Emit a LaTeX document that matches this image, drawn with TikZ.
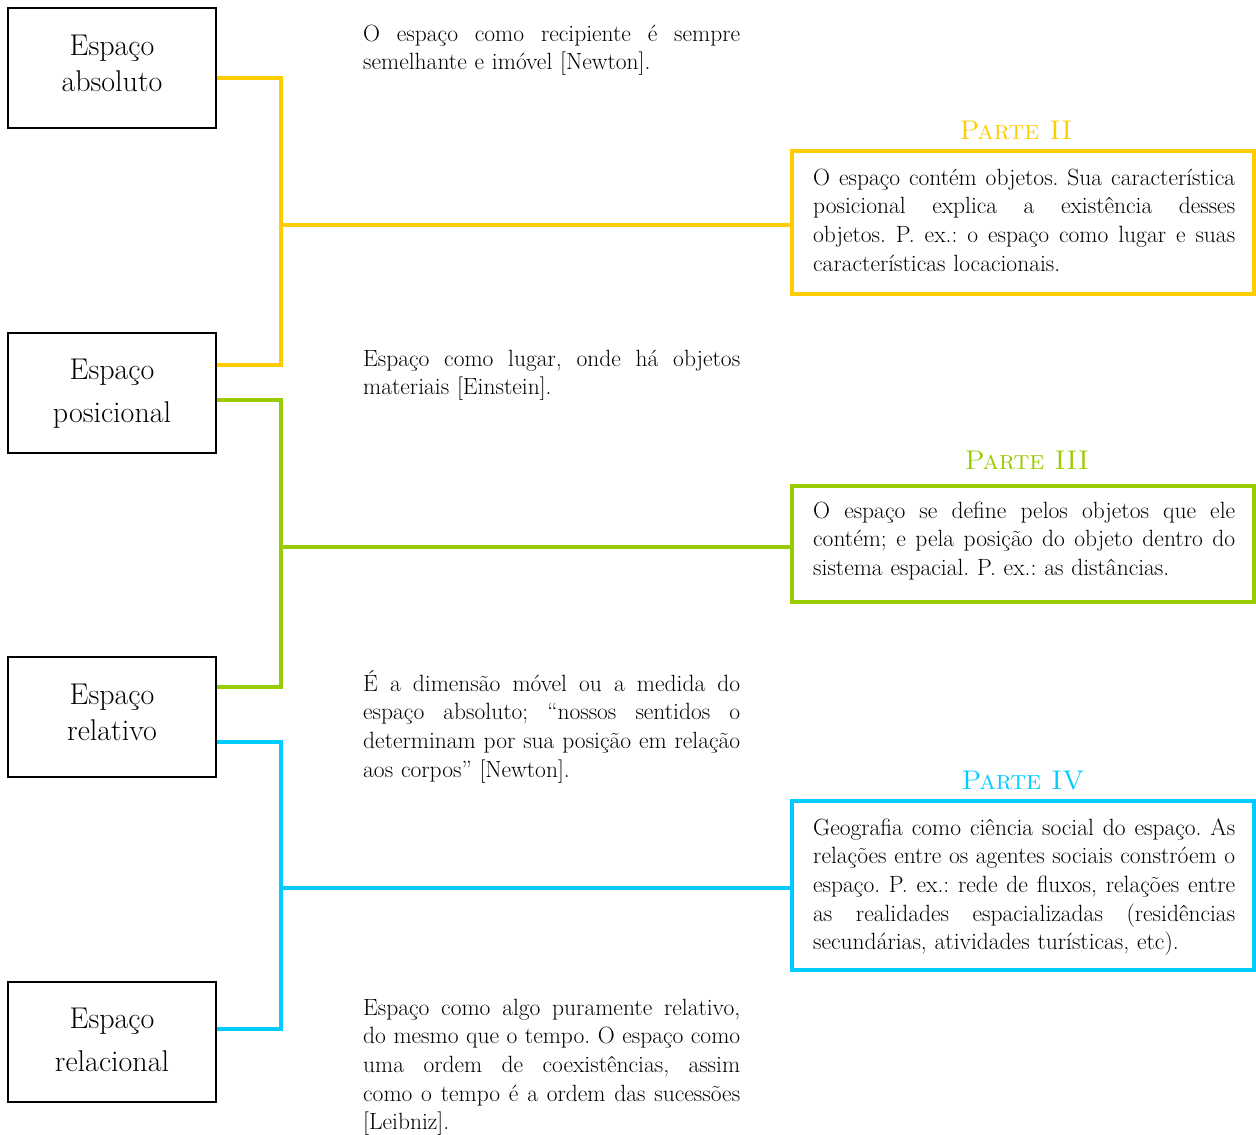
\documentclass[tikz,border=0pt]{standalone}
\usepackage{fontspec}
\frenchspacing
\definecolor{cyel}{HTML}{FFCC00}
\definecolor{cgrn}{HTML}{99CC00}
\definecolor{cblu}{HTML}{00CCFF}
\newcommand\jlA[1]{\makebox[377pt][s]{\spaceskip=0pt\xspaceskip=0pt #1}}
\newcommand\jlB[1]{\makebox[422pt][s]{\spaceskip=0pt\xspaceskip=0pt #1}}
\tikzset{
  leftbox/.style={draw=black, line width=1.5pt, minimum width=208pt, minimum height=120pt, inner sep=0pt},
  boxtxt/.style={font=\fontsize{30}{36}\selectfont, inner sep=0pt, anchor=base},
  para/.style={font=\fontsize{23.5}{28.7}\selectfont\frenchspacing, inner sep=0pt, anchor=base west, text width=377pt, align=left},
  bpara/.style={para, text width=422pt},
  rbox/.style={draw=#1, line width=4pt, minimum width=462pt, inner sep=0pt},
  ptitle/.style={text=#1, font=\fontsize{27}{33}\selectfont\scshape, inner sep=0pt, anchor=base},
  conn/.style={draw=#1, line width=3.5pt}
}
\begin{document}
\begin{tikzpicture}[x=1pt,y=-1pt]
\useasboundingbox (0,0) rectangle (1256,1135);
% left boxes
\node[leftbox] (b1) at (112,68) {};
\node[leftbox] (b2) at (112,393) {};
\node[leftbox] (b3) at (112,717) {};
\node[leftbox] (b4) at (112,1042) {};
\node[boxtxt] (b1a) at (112,55) {Espaço};
\node[boxtxt] (b1b) at (112,91) {absoluto};
\node[boxtxt] (b2a) at (112,379) {Espaço};
\node[boxtxt] (b2b) at (112,422) {posicional};
\node[boxtxt] (b3a) at (112,704) {Espaço};
\node[boxtxt] (b3b) at (112,740) {relativo};
\node[boxtxt] (b4a) at (112,1028) {Espaço};
\node[boxtxt] (b4b) at (112,1071) {relacional};
% middle texts
\node[para] (m1) at (363,41) {\jlA{O espaço como recipiente é sempre}\\semelhante e imóvel [Newton].};
\node[para] (m2) at (363,366) {\jlA{Espaço como lugar, onde há objetos}\\materiais [Einstein].};
\node[para] (m3) at (363,691) {\jlA{É a dimensão móvel ou a medida do}\\\jlA{espaço absoluto; “nossos sentidos o}\\\jlA{determinam por sua posição em relação}\\aos corpos” [Newton].};
\node[para] (m4) at (363,1015) {\jlA{Espaço como algo puramente relativo,}\\\jlA{do mesmo que o tempo. O espaço como}\\\jlA{uma ordem de coexistências, assim}\\\jlA{como o tempo é a ordem das sucessões}\\\relax{[Leibniz].}};
% right boxes
\node[rbox=cyel, minimum height=143.5pt] (p2) at (1023,222.25) {};
\node[rbox=cgrn, minimum height=116.5pt] (p3) at (1023,543.75) {};
\node[rbox=cblu, minimum height=169.5pt] (p4) at (1023,885.25) {};
\node[ptitle=cyel] (t2) at (1016,139) {Parte II};
\node[ptitle=cgrn] (t3) at (1027,469) {Parte III};
\node[ptitle=cblu] (t4) at (1023,789) {Parte IV};
\node[bpara] (r2) at (813,185) {\jlB{O espaço contém objetos. Sua característica}\\\jlB{posicional explica a existência desses}\\\jlB{objetos. P. ex.: o espaço como lugar e suas}\\características locacionais.};
\node[bpara] (r3) at (813,518) {\jlB{O espaço se define pelos objetos que ele}\\\jlB{contém; e pela posição do objeto dentro do}\\sistema espacial. P. ex.: as distâncias.};
\node[bpara] (r4) at (813,835) {\jlB{Geografia como ciência social do espaço. As}\\\jlB{relações entre os agentes sociais constróem o}\\\jlB{espaço. P. ex.: rede de fluxos, relações entre}\\\jlB{as realidades espacializadas (residências}\\secundárias, atividades turísticas, etc).};
% connectors
\coordinate (jy) at (280,225);
\coordinate (jg) at (280,547);
\coordinate (jb) at (280,888);
\draw[conn=cyel] ([yshift=-10pt]b1.east) -- ++(64,0) |- ([yshift=28pt]b2.east);
\draw[conn=cyel] (jy) -- (jy -| p2.west);
\draw[conn=cgrn] ([yshift=-7pt]b2.east) -- ++(64,0) |- ([yshift=30pt]b3.east);
\draw[conn=cgrn] (jg) -- (jg -| p3.west);
\draw[conn=cblu] ([yshift=-25pt]b3.east) -- ++(64,0) |- ([yshift=13pt]b4.east);
\draw[conn=cblu] (jb) -- (jb -| p4.west);
\end{tikzpicture}
\end{document}
